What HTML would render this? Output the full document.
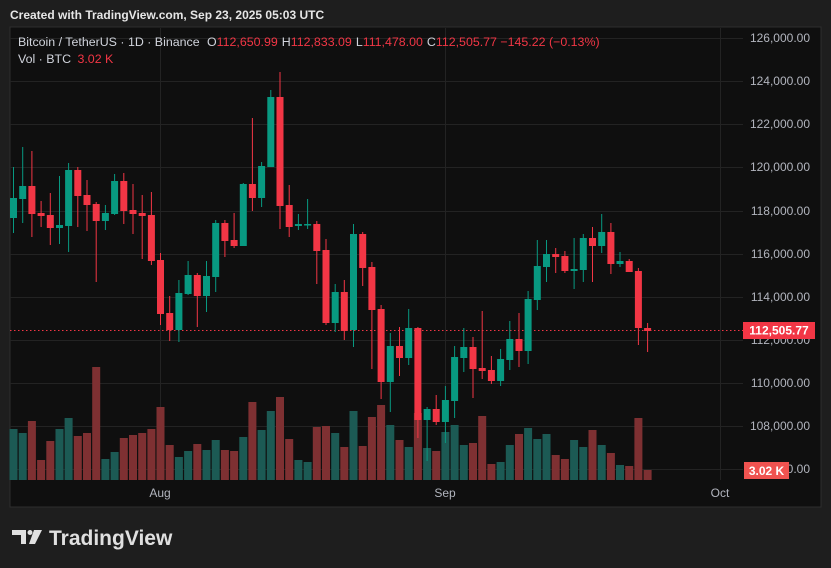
<!DOCTYPE html>
<html><head><meta charset="utf-8"><style>
html,body{margin:0;padding:0;background:#1e1e1e;width:831px;height:568px;overflow:hidden}
svg{display:block}
text{font-family:"Liberation Sans",sans-serif}
</style></head><body>
<svg width="831" height="568" viewBox="0 0 831 568">
<rect width="831" height="568" fill="#1e1e1e"/>
<text x="10" y="19" font-size="12" font-weight="bold" fill="#e6e6e6">Created with TradingView.com, Sep 23, 2025 05:03 UTC</text>
<rect x="10" y="27" width="811" height="480" fill="#0f0f0f" stroke="#2e2e2e" stroke-width="1"/>
<g stroke="#232323" stroke-width="1">
<path d="M10 38.5H743M10 81.5H743M10 124.5H743M10 167.5H743M10 211.5H743M10 254.5H743M10 297.5H743M10 340.5H743M10 383.5H743M10 426.5H743M10 469.5H743"/>
<path d="M160.5 28V480M445.5 28V480M720.5 28V480"/>
</g>
<g fill="#1c5a54">
<rect x="9.5" y="429" width="8" height="51"/><rect x="18.7" y="433" width="8" height="47"/><rect x="55.5" y="429" width="8" height="51"/><rect x="64.6" y="418" width="8" height="62"/><rect x="101.4" y="459" width="8" height="21"/><rect x="110.6" y="452" width="8" height="28"/><rect x="174.9" y="457" width="8" height="23"/><rect x="184.1" y="451" width="8" height="29"/><rect x="202.5" y="450" width="8" height="30"/><rect x="211.7" y="440" width="8" height="40"/><rect x="239.3" y="437" width="8" height="43"/><rect x="257.6" y="430" width="8" height="50"/><rect x="266.8" y="411" width="8" height="69"/><rect x="294.4" y="460" width="8" height="20"/><rect x="303.6" y="462" width="8" height="18"/><rect x="331.2" y="433" width="8" height="47"/><rect x="349.5" y="411" width="8" height="69"/><rect x="386.3" y="425" width="8" height="55"/><rect x="404.7" y="447" width="8" height="33"/><rect x="423.1" y="448" width="8" height="32"/><rect x="441.4" y="432" width="8" height="48"/><rect x="450.6" y="425" width="8" height="55"/><rect x="459.8" y="445" width="8" height="35"/><rect x="496.6" y="462" width="8" height="18"/><rect x="505.8" y="445" width="8" height="35"/><rect x="524.1" y="428" width="8" height="52"/><rect x="533.3" y="439" width="8" height="41"/><rect x="542.5" y="434" width="8" height="46"/><rect x="570.1" y="440" width="8" height="40"/><rect x="579.3" y="447" width="8" height="33"/><rect x="597.7" y="445" width="8" height="35"/><rect x="616" y="465" width="8" height="15"/>
</g>
<g fill="#7e3032">
<rect x="27.9" y="421" width="8" height="59"/><rect x="37.1" y="460" width="8" height="20"/><rect x="46.3" y="441" width="8" height="39"/><rect x="73.8" y="436" width="8" height="44"/><rect x="83" y="433" width="8" height="47"/><rect x="92.2" y="367" width="8" height="113"/><rect x="119.8" y="438" width="8" height="42"/><rect x="129" y="435" width="8" height="45"/><rect x="138.2" y="433" width="8" height="47"/><rect x="147.4" y="429" width="8" height="51"/><rect x="156.5" y="407" width="8" height="73"/><rect x="165.7" y="445" width="8" height="35"/><rect x="193.3" y="444" width="8" height="36"/><rect x="220.9" y="450" width="8" height="30"/><rect x="230.1" y="451" width="8" height="29"/><rect x="248.4" y="402" width="8" height="78"/><rect x="276" y="397" width="8" height="83"/><rect x="285.2" y="439" width="8" height="41"/><rect x="312.8" y="427" width="8" height="53"/><rect x="322" y="426" width="8" height="54"/><rect x="340.3" y="447" width="8" height="33"/><rect x="358.7" y="446" width="8" height="34"/><rect x="367.9" y="417" width="8" height="63"/><rect x="377.1" y="405" width="8" height="75"/><rect x="395.5" y="440" width="8" height="40"/><rect x="413.9" y="413" width="8" height="67"/><rect x="432.2" y="451" width="8" height="29"/><rect x="469" y="443" width="8" height="37"/><rect x="478.2" y="416" width="8" height="64"/><rect x="487.4" y="464" width="8" height="16"/><rect x="515" y="434" width="8" height="46"/><rect x="551.7" y="455" width="8" height="25"/><rect x="560.9" y="459" width="8" height="21"/><rect x="588.5" y="430" width="8" height="50"/><rect x="606.9" y="453" width="8" height="27"/><rect x="625.2" y="466" width="8" height="14"/><rect x="634.4" y="418" width="8" height="62"/><rect x="643.6" y="470" width="8" height="10"/>
</g>
<path d="M10 330.5H743" stroke="#f23645" stroke-width="1" stroke-dasharray="1.5,2.5"/>
<path stroke="#089981" stroke-width="1" fill="none" d="M13.5 167V233M22.7 147V223M59.5 176V244M68.6 163V252M105.4 205V230M114.6 174V215M178.9 280V342M188.1 261V295M206.5 261V312M215.7 220V292M243.3 183V246M261.6 162V207M270.8 90V167M298.4 214V230M307.6 199V229M335.2 284V332M353.5 224V347M390.3 333V412M408.7 309V365M427.1 407V461M445.4 386V443M454.6 346V418M463.8 328V372M500.6 349V386M509.8 321V370M528.1 291V364M537.3 240V310M546.5 240V282M574.1 238V289M583.3 234V282M601.7 214V253M620 252V267"/>
<path stroke="#f23645" stroke-width="1" fill="none" d="M31.9 151V237M41.1 201V227M50.3 193V245M77.8 167V227M87 180V231M96.2 202V282M123.8 173V224M133 184V234M142.2 195V259M151.4 192V265M160.5 253V325M169.7 296V341M197.3 273V327M224.9 220V257M234.1 213V248M252.4 118V211M280 72V229M289.2 185V237M316.8 221V284M326 239V325M344.3 280V340M362.7 232V286M371.9 262V369M381.1 305V399M399.5 327V376M417.9 327V438M436.2 395V425M473 337V398M482.2 311V379M491.4 356V384M519 313V367M555.7 248V273M564.9 251V273M592.5 227V282M610.9 223V274M629.2 259V272M638.4 268V345M647.6 323V352"/>
<g fill="#089981">
<rect x="10" y="198" width="7" height="20"/><rect x="19.2" y="186" width="7" height="13"/><rect x="56" y="225" width="7" height="3"/><rect x="65.1" y="170" width="7" height="56"/><rect x="101.9" y="213" width="7" height="8"/><rect x="111.1" y="181" width="7" height="33"/><rect x="175.4" y="293" width="7" height="37"/><rect x="184.6" y="275" width="7" height="19"/><rect x="203" y="276" width="7" height="20"/><rect x="212.2" y="223" width="7" height="54"/><rect x="239.8" y="184" width="7" height="62"/><rect x="258.1" y="166" width="7" height="32"/><rect x="267.3" y="97" width="7" height="70"/><rect x="294.9" y="224" width="7" height="2"/><rect x="304.1" y="224" width="7" height="1.5"/><rect x="331.7" y="292" width="7" height="31"/><rect x="350" y="234" width="7" height="96"/><rect x="386.8" y="346" width="7" height="36"/><rect x="405.2" y="328" width="7" height="30"/><rect x="423.6" y="409" width="7" height="11"/><rect x="441.9" y="400" width="7" height="22"/><rect x="451.1" y="357" width="7" height="44"/><rect x="460.3" y="347" width="7" height="11"/><rect x="497.1" y="359" width="7" height="22"/><rect x="506.3" y="339" width="7" height="21"/><rect x="524.6" y="299" width="7" height="52"/><rect x="533.8" y="266" width="7" height="34"/><rect x="543" y="254" width="7" height="13"/><rect x="570.6" y="269" width="7" height="2"/><rect x="579.8" y="238" width="7" height="32"/><rect x="598.2" y="232" width="7" height="14"/><rect x="616.5" y="261" width="7" height="3"/>
</g>
<g fill="#f23645">
<rect x="28.4" y="186" width="7" height="28"/><rect x="37.6" y="213" width="7" height="3"/><rect x="46.8" y="215" width="7" height="13"/><rect x="74.3" y="170" width="7" height="26"/><rect x="83.5" y="195" width="7" height="10"/><rect x="92.7" y="204" width="7" height="17"/><rect x="120.3" y="181" width="7" height="30"/><rect x="129.5" y="210" width="7" height="4"/><rect x="138.7" y="213" width="7" height="3"/><rect x="147.9" y="215" width="7" height="46"/><rect x="157" y="260" width="7" height="54"/><rect x="166.2" y="313" width="7" height="17"/><rect x="193.8" y="275" width="7" height="21"/><rect x="221.4" y="223" width="7" height="18"/><rect x="230.6" y="240" width="7" height="6"/><rect x="248.9" y="184" width="7" height="14"/><rect x="276.5" y="97" width="7" height="109"/><rect x="285.7" y="205" width="7" height="22"/><rect x="313.3" y="224" width="7" height="27"/><rect x="322.5" y="250" width="7" height="73"/><rect x="340.8" y="292" width="7" height="39"/><rect x="359.2" y="234" width="7" height="34"/><rect x="368.4" y="267" width="7" height="43"/><rect x="377.6" y="309" width="7" height="73"/><rect x="396" y="346" width="7" height="12"/><rect x="414.4" y="328" width="7" height="92"/><rect x="432.7" y="409" width="7" height="13"/><rect x="469.5" y="347" width="7" height="22"/><rect x="478.7" y="368" width="7" height="3"/><rect x="487.9" y="370" width="7" height="11"/><rect x="515.5" y="339" width="7" height="12"/><rect x="552.2" y="254" width="7" height="3"/><rect x="561.4" y="256" width="7" height="15"/><rect x="589" y="238" width="7" height="8"/><rect x="607.4" y="232" width="7" height="32"/><rect x="625.7" y="261" width="7" height="11"/><rect x="634.9" y="271" width="7" height="57"/><rect x="644.1" y="328" width="7" height="3"/>
</g>
<g font-size="12" fill="#b2b5be" text-anchor="end">
<text x="810" y="42">126,000.00</text><text x="810" y="85">124,000.00</text><text x="810" y="128">122,000.00</text><text x="810" y="171">120,000.00</text><text x="810" y="215">118,000.00</text><text x="810" y="258">116,000.00</text><text x="810" y="301">114,000.00</text><text x="810" y="344">112,000.00</text><text x="810" y="387">110,000.00</text><text x="810" y="430">108,000.00</text><text x="810" y="473">106,000.00</text>
</g>
<rect x="743" y="322" width="72" height="17" fill="#f23645"/>
<text x="779" y="334.5" font-size="12" font-weight="bold" fill="#fff" text-anchor="middle">112,505.77</text>
<rect x="744" y="462" width="45" height="17" fill="#f05350"/>
<text x="766.5" y="475" font-size="12" font-weight="bold" fill="#fff" text-anchor="middle">3.02 K</text>
<g font-size="12" fill="#b2b5be" text-anchor="middle">
<text x="160" y="497">Aug</text><text x="445" y="497">Sep</text><text x="720" y="497">Oct</text>
</g>
<text x="18" y="46" font-size="12.4" fill="#d1d4dc">Bitcoin / TetherUS · 1D · Binance <tspan dx="4">O</tspan><tspan fill="#f23645">112,650.99</tspan><tspan dx="4">H</tspan><tspan fill="#f23645">112,833.09</tspan><tspan dx="4">L</tspan><tspan fill="#f23645">111,478.00</tspan><tspan dx="4">C</tspan><tspan fill="#f23645">112,505.77 −145.22 (−0.13%)</tspan></text>
<text x="18" y="63" font-size="12.4" fill="#d1d4dc">Vol · BTC <tspan dx="3" fill="#f23645">3.02 K</tspan></text>
<g fill="#e0e0e0">
<path d="M12 530H26V544H21V535H12Z"/>
<circle cx="30" cy="532.5" r="2.5"/>
<path d="M34 530H42L35 544H29Z"/>
</g>
<text x="49" y="545" font-size="21" font-weight="bold" fill="#e0e0e0">TradingView</text>
</svg>
</body></html>
